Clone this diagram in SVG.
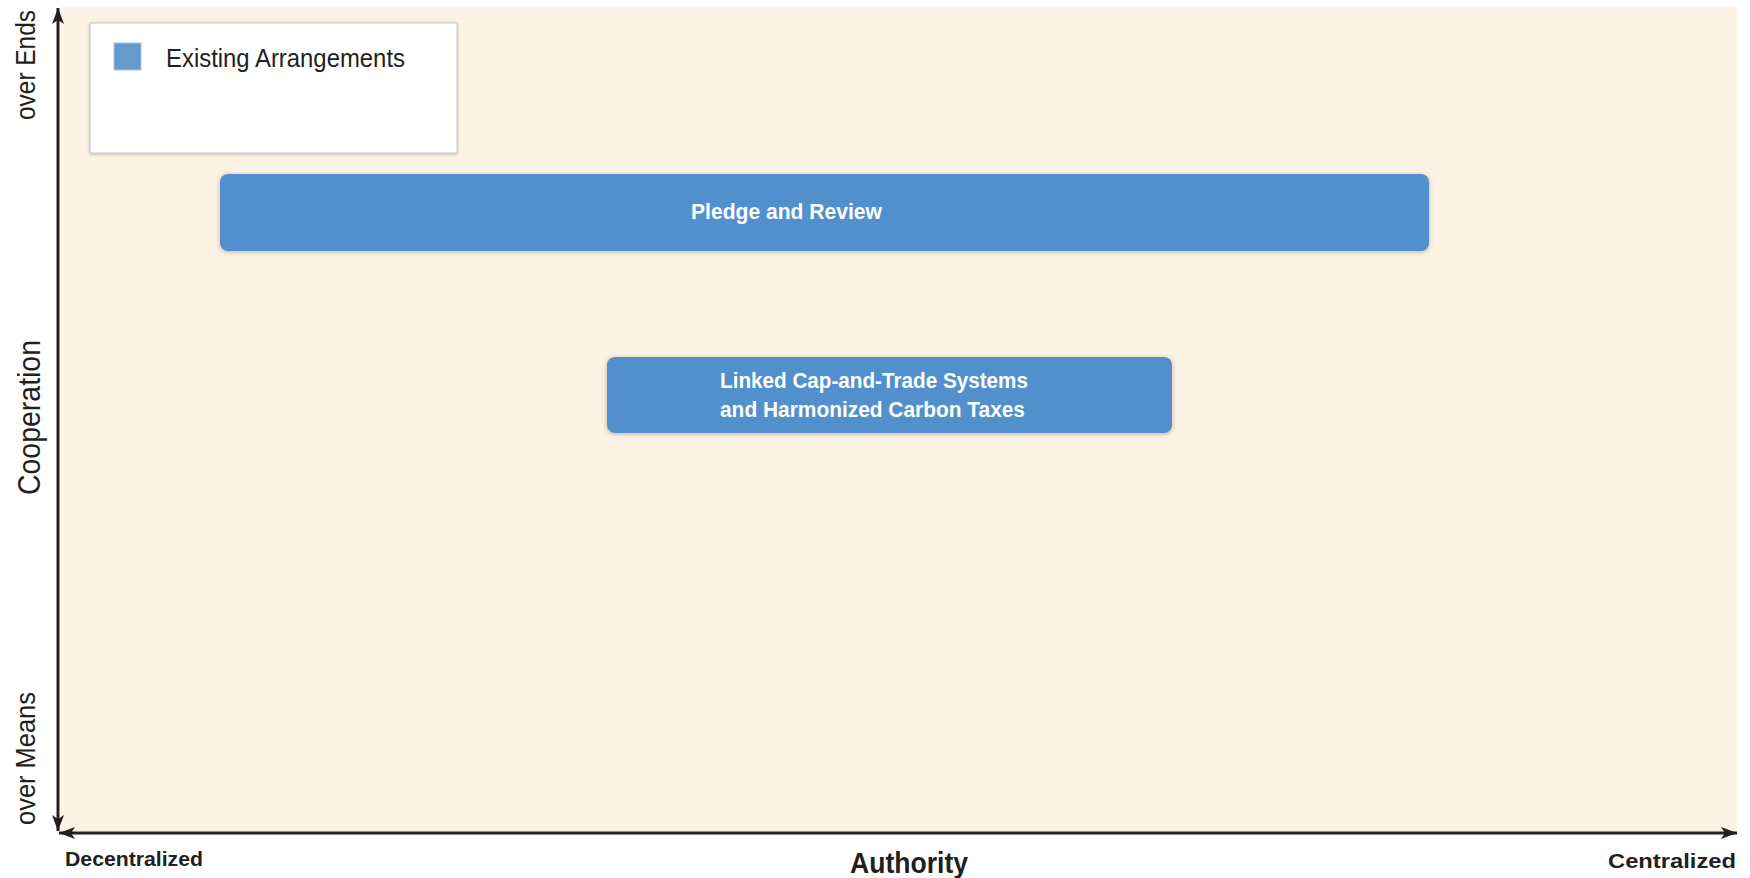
<svg xmlns="http://www.w3.org/2000/svg" width="1750" height="878" viewBox="0 0 1750 878">
  <style>
    .lbl { font-family: "Liberation Sans", Arial, sans-serif; fill: #231F20; }
    .box { fill: #5190CC; }
    .boxtxt { font-family: "Liberation Sans", Arial, sans-serif; font-weight: bold; font-size: 22px; fill: #FFFFFF; }
    .axis { stroke: #231F20; stroke-width: 3; fill: none; }
  </style>
  <defs>
    <filter id="shadow" x="-5%" y="-30%" width="110%" height="160%">
      <feDropShadow dx="0" dy="1" stdDeviation="2.5" flood-color="#8a7a60" flood-opacity="0.55"/>
    </filter>
    <filter id="lshadow" x="-5%" y="-10%" width="110%" height="120%">
      <feDropShadow dx="0" dy="1" stdDeviation="1.5" flood-color="#000" flood-opacity="0.25"/>
    </filter>
    <marker id="arr" markerUnits="userSpaceOnUse" markerWidth="18" markerHeight="14" refX="16" refY="6" orient="auto-start-reverse" viewBox="0 0 18 12">
      <path d="M0,0 L16,6 L0,12 L4,6 Z" fill="#231F20"/>
    </marker>
  </defs>

  <rect x="0" y="0" width="1750" height="878" fill="#FFFFFF"/>
  <rect id="plot-bg" x="61" y="7" width="1676" height="824" fill="#FDF3E4"/>

  <g id="legend">
    <rect x="90" y="23" width="367" height="130" fill="#FFFFFF" stroke="#C8C8C8" stroke-width="1" filter="url(#lshadow)"/>
    <rect x="114" y="43" width="27" height="27" fill="#6699CC" stroke="#A9C6E6" stroke-width="1"/>
    <text class="lbl" x="166" y="67" font-size="26" textLength="239" lengthAdjust="spacingAndGlyphs">Existing Arrangements</text>
  </g>

  <g id="node-pledge">
    <rect class="box" x="220" y="174" width="1209" height="77" rx="8" filter="url(#shadow)"/>
    <text class="boxtxt" x="691" y="219" textLength="191" lengthAdjust="spacingAndGlyphs">Pledge and Review</text>
  </g>

  <g id="node-linked">
    <rect class="box" x="607" y="357" width="565" height="76" rx="8" filter="url(#shadow)"/>
    <text class="boxtxt" x="720" y="388" textLength="308" lengthAdjust="spacingAndGlyphs">Linked Cap-and-Trade Systems</text>
    <text class="boxtxt" x="720" y="417" textLength="305" lengthAdjust="spacingAndGlyphs">and Harmonized Carbon Taxes</text>
  </g>

  <g id="connectors">
    <line class="axis" x1="58" y1="831" x2="58" y2="8" marker-start="url(#arr)" marker-end="url(#arr)"/>
    <line class="axis" x1="59" y1="833" x2="1737" y2="833" marker-start="url(#arr)" marker-end="url(#arr)"/>
  </g>

  <g id="axis-labels">
    <text class="lbl" x="65" y="866" font-size="21" font-weight="bold" textLength="138" lengthAdjust="spacingAndGlyphs">Decentralized</text>
    <text class="lbl" x="1608" y="868" font-size="21" font-weight="bold" textLength="128" lengthAdjust="spacingAndGlyphs">Centralized</text>
    <text class="lbl" x="850" y="873" font-size="29" font-weight="bold" textLength="118" lengthAdjust="spacingAndGlyphs">Authority</text>
    <text class="lbl" transform="translate(40,417.5) rotate(-90)" text-anchor="middle" font-size="32" textLength="155" lengthAdjust="spacingAndGlyphs">Cooperation</text>
    <text class="lbl" transform="translate(35,65) rotate(-90)" text-anchor="middle" font-size="28" textLength="110" lengthAdjust="spacingAndGlyphs">over Ends</text>
    <text class="lbl" transform="translate(35,758.5) rotate(-90)" text-anchor="middle" font-size="28" textLength="133" lengthAdjust="spacingAndGlyphs">over Means</text>
  </g>
</svg>
